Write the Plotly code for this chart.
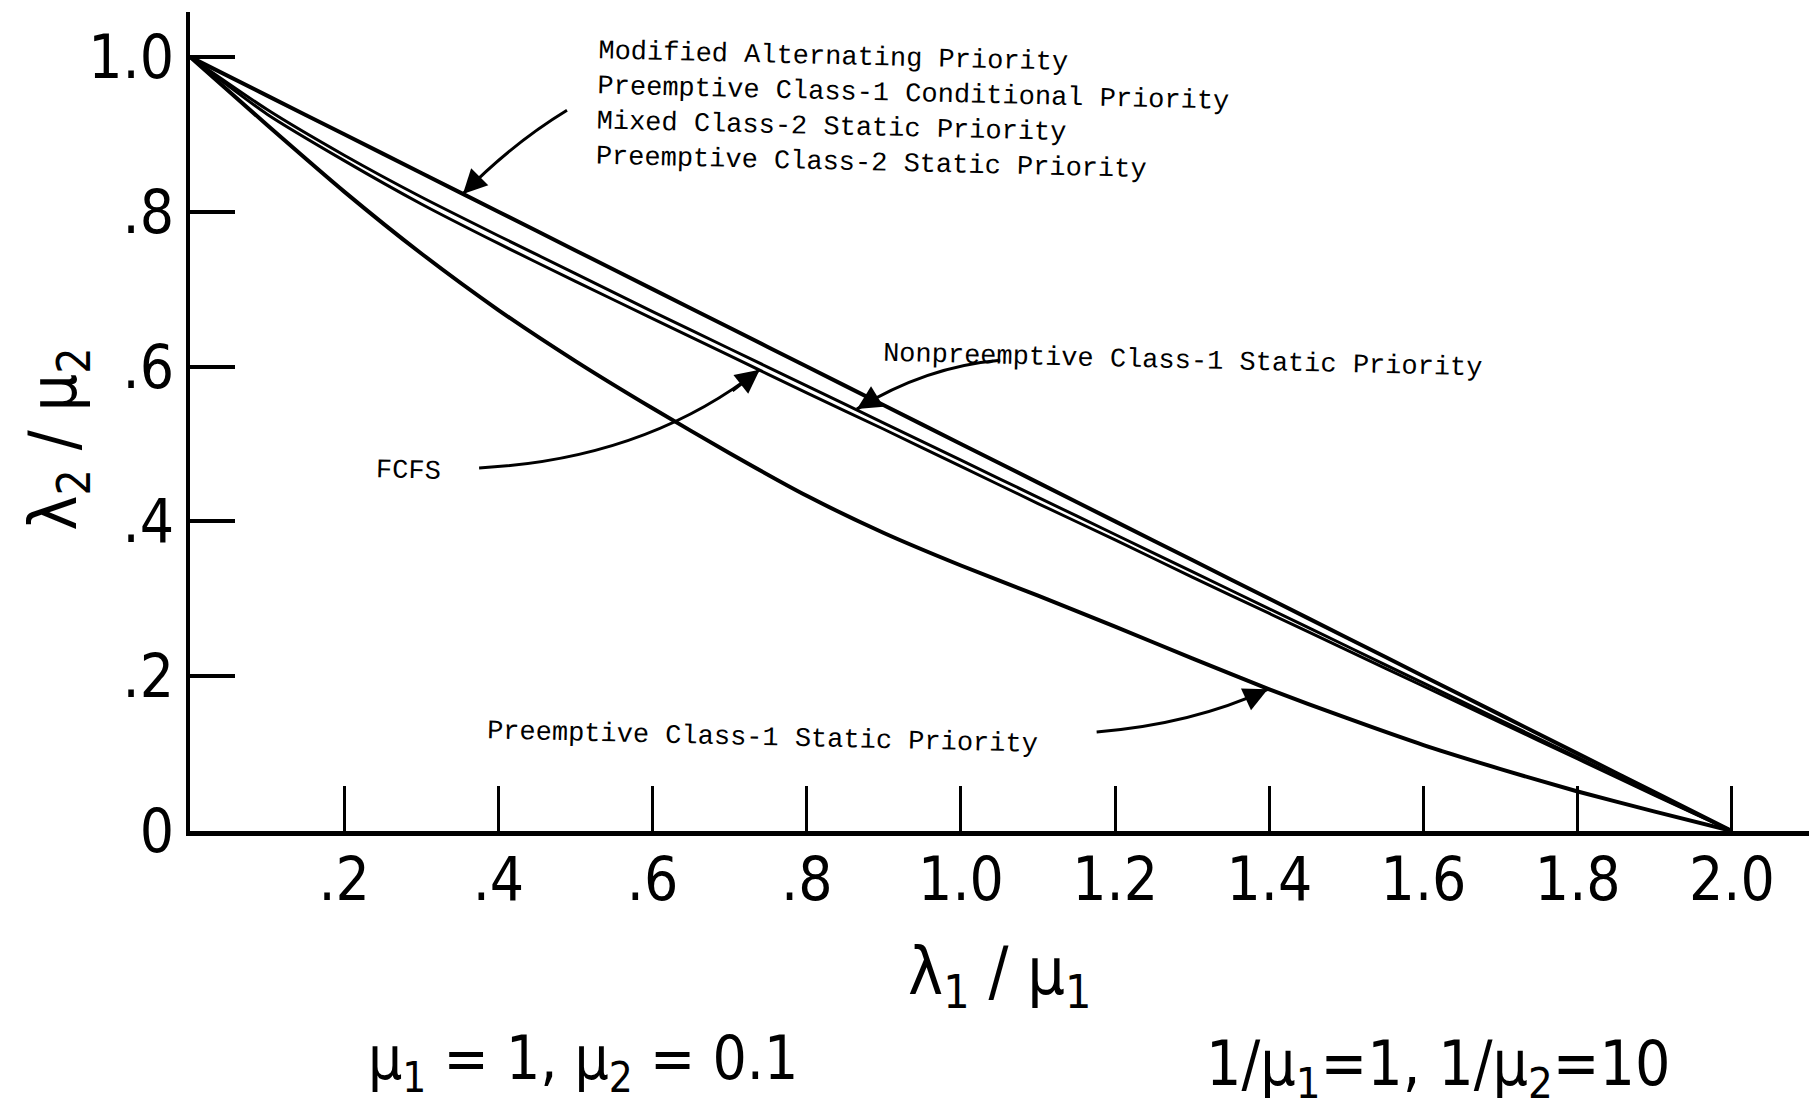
import plotly.graph_objects as go

# ---------------- data ----------------
lam1_over_mu1 = [0.0, 0.1, 0.2, 0.3, 0.4, 0.5, 0.6, 0.7, 0.8, 0.9, 1.0,
                 1.1, 1.2, 1.3, 1.4, 1.5, 1.6, 1.7, 1.8, 1.9, 2.0]

# Modified Alternating / Preemptive Class-1 Conditional / Mixed Class-2 Static /
# Preemptive Class-2 Static Priority (coincident curves)
map_group = [1.0, 0.95, 0.90, 0.85, 0.80, 0.75, 0.70, 0.65, 0.60, 0.55, 0.50,
             0.45, 0.40, 0.35, 0.30, 0.25, 0.20, 0.15, 0.10, 0.05, 0.0]

nonpreemptive_c1 = [1.0, 0.932, 0.873, 0.819, 0.769, 0.720, 0.671, 0.623, 0.575, 0.527, 0.479,
                    0.431, 0.383, 0.335, 0.287, 0.239, 0.191, 0.143, 0.095, 0.047, 0.0]

fcfs = [1.0, 0.926, 0.866, 0.810, 0.759, 0.710, 0.662, 0.614, 0.566, 0.519, 0.471,
        0.423, 0.376, 0.328, 0.281, 0.234, 0.187, 0.140, 0.093, 0.046, 0.0]

preemptive_c1 = [1.0, 0.912, 0.826, 0.746, 0.673, 0.607, 0.546, 0.488, 0.433, 0.385, 0.343,
                 0.304, 0.264, 0.223, 0.183, 0.146, 0.111, 0.080, 0.051, 0.025, 0.0]

x_tickvals = [0.2, 0.4, 0.6, 0.8, 1.0, 1.2, 1.4, 1.6, 1.8, 2.0]
x_ticktext = [".2", ".4", ".6", ".8", "1.0", "1.2", "1.4", "1.6", "1.8", "2.0"]
y_tickvals = [0.0, 0.2, 0.4, 0.6, 0.8, 1.0]
y_ticktext = ["0", ".2", ".4", ".6", ".8", "1.0"]

labels = {
    "map": "Modified Alternating Priority<br>Preemptive Class-1 Conditional Priority<br>"
           "Mixed Class-2 Static Priority<br>Preemptive Class-2 Static Priority",
    "np": "Nonpreemptive Class-1 Static Priority",
    "fcfs": "FCFS",
    "pc1": "Preemptive Class-1 Static Priority",
}

# label positions (x, y) and curved arrows (tail, control, tip) in data units
label_pos = {"map": (0.938, 0.929), "np": (1.288, 0.607), "fcfs": (0.284, 0.465), "pc1": (0.742, 0.120)}
arrows = [
    ((0.489, 0.931), (0.418, 0.888), (0.354, 0.823)),
    ((1.051, 0.608), (0.955, 0.600), (0.865, 0.545)),
    ((0.375, 0.469), (0.590, 0.480), (0.739, 0.596)),
    ((1.176, 0.128), (1.300, 0.138), (1.398, 0.183)),
]

BIG = "Liberation Sans Narrow, DejaVu Sans Condensed, Liberation Sans, sans-serif"
MONO = "Liberation Mono, Courier New, DejaVu Sans Mono, monospace"

fig = go.Figure()
for ys, w in [(map_group, 4), (nonpreemptive_c1, 3), (fcfs, 3), (preemptive_c1, 4)]:
    fig.add_trace(go.Scatter(x=lam1_over_mu1, y=ys, mode="lines",
                             line=dict(color="black", width=w, shape="spline", smoothing=0.6),
                             showlegend=False, hoverinfo="skip"))

# curved arrows
for tail, ctrl, tip in arrows:
    fig.add_shape(type="path", xref="x", yref="y",
                  path=f"M {tail[0]},{tail[1]} Q {ctrl[0]},{ctrl[1]} {tip[0]},{tip[1]}",
                  line=dict(color="black", width=3))
    bx = tip[0] + 0.25 * (ctrl[0] - tip[0])
    by = tip[1] + 0.25 * (ctrl[1] - tip[1])
    fig.add_annotation(x=tip[0], y=tip[1], ax=bx, ay=by, axref="x", ayref="y",
                       xref="x", yref="y", text="", showarrow=True,
                       arrowhead=2, arrowsize=1.6, arrowwidth=3, arrowcolor="black")

for key, txt in labels.items():
    px, py = label_pos[key]
    fig.add_annotation(x=px, y=py, xref="x", yref="y", text=txt, showarrow=False,
                       xanchor="center", yanchor="middle", align="left", textangle=1.4,
                       font=dict(family=MONO, size=27, color="black"))

# axis titles and parameter captions
fig.add_annotation(x=0.5, y=-0.177, xref="paper", yref="paper",
                   xanchor="center", yanchor="middle",
                   text="λ<sub>1</sub> / μ<sub>1</sub>", showarrow=False,
                   font=dict(family=BIG, size=66, color="black"))
fig.add_annotation(x=-0.0815, y=0.479, xref="paper", yref="paper", textangle=-90,
                   xanchor="center", yanchor="middle",
                   text="λ<sub>2</sub> / μ<sub>2</sub>", showarrow=False,
                   font=dict(family=BIG, size=66, color="black"))
fig.add_annotation(x=0.243, y=-0.283, xref="paper", yref="paper",
                   xanchor="center", yanchor="middle",
                   text="μ<sub>1</sub> = 1, μ<sub>2</sub> = 0.1", showarrow=False,
                   font=dict(family=BIG, size=60, color="black"))
fig.add_annotation(x=0.771, y=-0.289, xref="paper", yref="paper",
                   xanchor="center", yanchor="middle",
                   text="1/μ<sub>1</sub>=1, 1/μ<sub>2</sub>=10", showarrow=False,
                   font=dict(family=BIG, size=62, color="black"))

fig.update_xaxes(range=[0, 2.1], showline=True, linewidth=5, linecolor="black",
                 ticks="inside", ticklen=45, tickwidth=3, tickcolor="black",
                 tickvals=x_tickvals, ticktext=x_ticktext, ticklabelstandoff=-8,
                 tickfont=dict(family=BIG, size=60, color="black"),
                 showgrid=False, zeroline=False, mirror=False)
fig.update_yaxes(range=[0, 1.058], showline=True, linewidth=4, linecolor="black",
                 ticks="inside", ticklen=45, tickwidth=4, tickcolor="black",
                 tickvals=y_tickvals, ticktext=y_ticktext,
                 tickfont=dict(family=BIG, size=60, color="black"),
                 showgrid=False, zeroline=False, mirror=False)

fig.update_layout(width=1811, height=1119, autosize=False,
                  margin=dict(l=190, r=2, t=12, b=288, pad=0),
                  paper_bgcolor="white", plot_bgcolor="white")

fig.write_html("out.html", config={"displayModeBar": False})
